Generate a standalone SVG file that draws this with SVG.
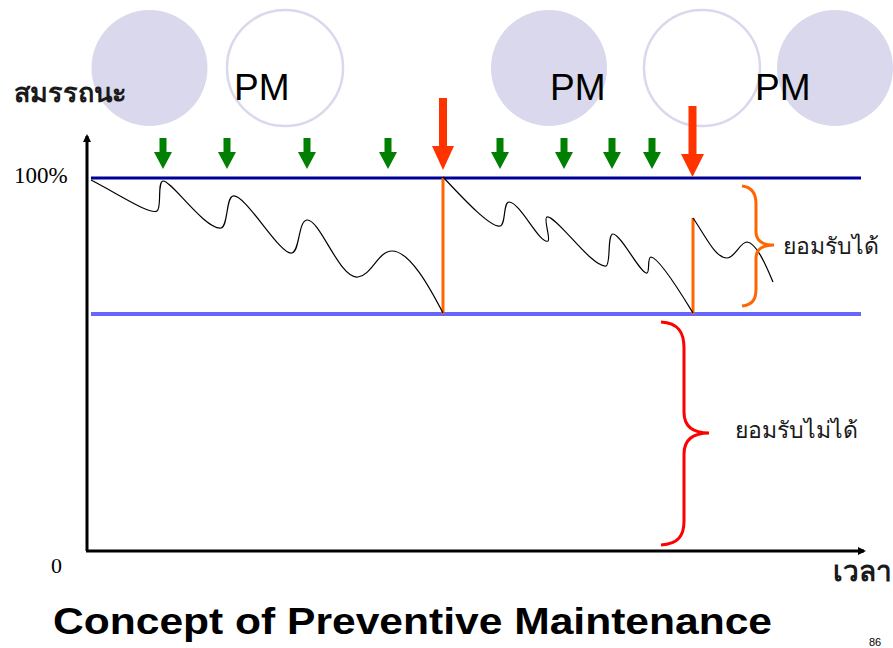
<svg xmlns="http://www.w3.org/2000/svg" width="893" height="648" viewBox="0 0 893 648">
  <style>
    .bubble { fill: #D9D8EC; }
    .ring { fill: none; stroke: #D9D8EC; stroke-width: 2.5; }
    .pm { font-family: "Liberation Sans", Arial, sans-serif; font-size: 37px; fill: #000; }
    .thai { font-family: "Liberation Serif", "Noto Serif", "DejaVu Serif", serif; fill: #1a1a1a; }
    .num { font-family: "Liberation Serif", "Times New Roman", serif; fill: #000; }
    .pmarrow { fill: #008000; }
    .cmarrow { fill: #FF3300; }
    .reset { stroke: #FF6600; stroke-width: 3; }
    .curve { fill: none; stroke: #000; stroke-width: 1.2; }
    .axis { stroke: #000; stroke-width: 3; fill: none; }
  </style>
  <defs>
    <marker id="axisHead" markerWidth="10" markerHeight="10" refX="6" refY="4" orient="auto" markerUnits="userSpaceOnUse">
      <path d="M0,0 L8,4 L0,8 Z" fill="#000"/>
    </marker>
  </defs>

  <rect width="893" height="648" fill="#fff"/>

  <!-- decorative bubbles along the top -->
  <g id="bubbles">
    <circle class="bubble" cx="149.5" cy="68" r="58"/>
    <circle class="ring" cx="285" cy="68" r="58"/>
    <circle class="bubble" cx="549" cy="68" r="58"/>
    <circle class="ring" cx="702" cy="68" r="58"/>
    <circle class="bubble" cx="835" cy="68" r="58"/>
  </g>

  <g id="pm-labels">
    <text class="pm" x="234" y="100">PM</text>
    <text class="pm" x="550" y="100">PM</text>
    <text class="pm" x="755" y="100">PM</text>
  </g>

  <!-- axes -->
  <g id="axes">
    <path class="axis" d="M87,551 L87,136" marker-end="url(#axisHead)"/>
    <path class="axis" d="M86,551 L864,551" marker-end="url(#axisHead)"/>
    <text class="thai" x="14" y="102" font-size="27" font-weight="bold">สมรรถนะ</text>
    <text class="num" x="14" y="183" font-size="23">100%</text>
    <text class="num" x="51" y="573" font-size="22">0</text>
    <text class="thai" x="833" y="581" font-size="28" font-weight="bold">เวลา</text>
  </g>

  <!-- performance limits -->
  <g id="limits">
    <line id="upper-limit" x1="91" y1="178" x2="861" y2="178" stroke="#000099" stroke-width="3"/>
    <line id="lower-limit" x1="91" y1="314" x2="861" y2="314" stroke="#6666FF" stroke-width="4"/>
  </g>

  <!-- corrective maintenance resets -->
  <g id="resets">
    <line class="reset" x1="443" y1="178" x2="443" y2="314"/>
    <line class="reset" x1="693" y1="218" x2="693" y2="314"/>
  </g>

  <!-- performance curve -->
  <g id="performance">
    <path class="curve" d="M91,180 C120,195 150,215 157,211 C162,208 157,182 163,181 C171,180 205,230 221,228 C228,227 226,197 233,196 C246,194 280,256 292,253 C300,251 298,221 307,220 C320,219 340,280 358,277 C372,275 378,251 392,251 C410,251 430,288 443,313"/>
    <path class="curve" d="M443,177 C460,195 490,228 500,226 C506,225 503,202 509,202 C520,202 540,245 548,241 C551,239 543,218 547,217 C556,215 592,268 606,266 C611,265 607,234 613,234 C621,234 641,275 647,273 C650,272 647,257 651,257 C660,258 685,300 693,313"/>
    <path class="curve" d="M693,218 C705,235 715,258 727,258 C735,258 740,242 747,242 C757,243 767,268 773,282"/>
  </g>

  <!-- planned maintenance markers -->
  <g id="pm-arrows">
    <path class="pmarrow" d="M159.5,138 h7 v14 h5.5 l-9,17 l-9,-17 h5.5 Z"/>
    <path class="pmarrow" d="M223.5,138 h7 v14 h5.5 l-9,17 l-9,-17 h5.5 Z"/>
    <path class="pmarrow" d="M303.5,138 h7 v14 h5.5 l-9,17 l-9,-17 h5.5 Z"/>
    <path class="pmarrow" d="M384.5,138 h7 v14 h5.5 l-9,17 l-9,-17 h5.5 Z"/>
    <path class="pmarrow" d="M496.5,138 h7 v14 h5.5 l-9,17 l-9,-17 h5.5 Z"/>
    <path class="pmarrow" d="M560.5,138 h7 v14 h5.5 l-9,17 l-9,-17 h5.5 Z"/>
    <path class="pmarrow" d="M608.5,138 h7 v14 h5.5 l-9,17 l-9,-17 h5.5 Z"/>
    <path class="pmarrow" d="M648.5,138 h7 v14 h5.5 l-9,17 l-9,-17 h5.5 Z"/>
  </g>

  <!-- breakdown repair markers -->
  <g id="cm-arrows">
    <path class="cmarrow" d="M439,98 h8 v48 h7 l-11,24 l-11,-24 h7 Z"/>
    <path class="cmarrow" d="M688.5,106 h8 v48 h7.5 l-11.5,23 l-11.5,-23 h7.5 Z"/>
  </g>

  <!-- acceptable band -->
  <g id="acceptable">
    <path d="M742,186 C752,187 756,193 756,204 L756,232 C756,240 762,245 774,245 C762,245 756,250 756,258 L756,289 C756,300 752,305 742,306" fill="none" stroke="#FF6600" stroke-width="3"/>
    <text class="thai" x="783" y="254" font-size="23">ยอมรับได้</text>
  </g>

  <!-- unacceptable band -->
  <g id="unacceptable">
    <path d="M661,322 C678,323 684,332 684,348 L684,412 C684,426 692,433 709,433 C692,433 684,440 684,454 L684,521 C684,536 678,544 661,545" fill="none" stroke="#FF0000" stroke-width="3"/>
    <text class="thai" x="735" y="438" font-size="23">ยอมรับไม่ได้</text>
  </g>

  <g id="title">
    <text x="53" y="634" font-family="Liberation Sans, Arial, sans-serif" font-size="36" font-weight="bold" fill="#000" textLength="719" lengthAdjust="spacingAndGlyphs">Concept of Preventive Maintenance</text>
    <text x="869" y="646" font-family="Liberation Sans, Arial, sans-serif" font-size="11" fill="#000">86</text>
  </g>
</svg>
